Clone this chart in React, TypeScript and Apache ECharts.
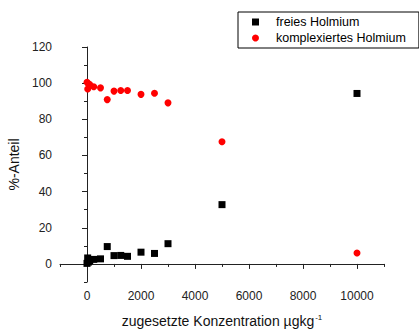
import React, { useEffect, useRef } from "react";
import * as echarts from "echarts";

const concentrations = [0, 25, 50, 100, 250, 500, 750, 1000, 1250, 1500, 2000, 2500, 3000, 5000, 10000];
const freiesHolmium = [0.3, 3.3, 1.0, 1.8, 2.5, 2.8, 9.6, 4.6, 4.7, 4.2, 6.5, 5.8, 11.2, 32.8, 94.3];
const komplexiertesHolmium = [100.5, 96.8, 99.7, 99.2, 98.0, 97.4, 90.9, 95.6, 95.9, 95.9, 93.8, 94.4, 89.1, 67.6, 6.0];
const seriesNames = ["freies Holmium", "komplexiertes Holmium"];
const xMajorTicks = [0, 2000, 4000, 6000, 8000, 10000];
const xMinorTicks = [-1000, 1000, 3000, 5000, 7000, 9000, 11000];
const yMajorTicks = [0, 20, 40, 60, 80, 100, 120];
const yMinorTicks = [-10, 10, 30, 50, 70, 90, 110];

const FONT = "Liberation Sans, Arial, sans-serif";
const AXIS_COLOR = "#222";

export default function App() {
  const ref = useRef<HTMLDivElement>(null);
  useEffect(() => {
    if (!ref.current) return;
    const chart = echarts.init(ref.current, undefined, { renderer: "svg" });
    const baseX = {
      type: "value",
      min: -1000,
      max: 11000,
      splitLine: { show: false },
    };
    const baseY = {
      type: "value",
      min: -10,
      max: 120,
      splitLine: { show: false },
    };
    chart.setOption({
      animation: false,
      backgroundColor: "#fff",
      textStyle: { fontFamily: FONT },
      grid: {
        left: 60,
        top: 47,
        right: 35,
        bottom: 47,
        containLabel: false,
        outerBoundsMode: "none",
      },
      legend: {
        orient: "vertical",
        left: 238,
        top: 12,
        data: [
          { name: seriesNames[0], icon: "rect" },
          { name: seriesNames[1], icon: "circle" },
        ],
        itemWidth: 7,
        itemHeight: 7,
        itemGap: 2,
        padding: [3, 13, 3, 14],
        borderColor: "#000",
        borderWidth: 1,
        borderRadius: 0,
        textStyle: {
          fontFamily: FONT,
          fontSize: 12.5,
          lineHeight: 14,
          color: "#000",
          padding: [0, 0, 0, 12],
        },
      },
      xAxis: [
        {
          ...baseX,
          position: "bottom",
          name: "zugesetzte Konzentration µgkg{sup|-1}",
          nameLocation: "middle",
          nameGap: 31,
          nameTextStyle: {
            fontFamily: FONT,
            fontSize: 14,
            color: "#111",
            lineHeight: 16,
            rich: {
              sup: { fontSize: 8, verticalAlign: "top", lineHeight: 16, padding: [0, 0, 0, 1] },
            },
          },
          axisLine: { show: true, lineStyle: { color: AXIS_COLOR, width: 1 } },
          axisTick: { show: true, inside: false, length: 5, customValues: xMajorTicks, lineStyle: { color: AXIS_COLOR } },
          axisLabel: {
            customValues: xMajorTicks,
            margin: 8,
            fontSize: 12,
            color: "#222",
            fontFamily: FONT,
            formatter: (v: number) => String(v),
          },
        },
        {
          ...baseX,
          position: "bottom",
          axisLine: { show: false },
          axisTick: { show: true, inside: false, length: 3, customValues: xMinorTicks, lineStyle: { color: AXIS_COLOR } },
          axisLabel: { show: false },
        },
      ],
      yAxis: [
        {
          ...baseY,
          position: "left",
          name: "%-Anteil",
          nameLocation: "middle",
          nameGap: 36,
          nameTextStyle: { fontFamily: FONT, fontSize: 14, color: "#111" },
          axisLine: { show: true, lineStyle: { color: AXIS_COLOR, width: 1 } },
          axisTick: { show: true, inside: false, length: 5, customValues: yMajorTicks, lineStyle: { color: AXIS_COLOR } },
          axisLabel: {
            customValues: yMajorTicks,
            margin: 8,
            fontSize: 12,
            color: "#222",
            fontFamily: FONT,
            formatter: (v: number) => String(v),
          },
        },
        {
          ...baseY,
          position: "left",
          axisLine: { show: false },
          axisTick: { show: true, inside: false, length: 3, customValues: yMinorTicks, lineStyle: { color: AXIS_COLOR } },
          axisLabel: { show: false },
        },
      ],
      series: [
        {
          name: seriesNames[0],
          type: "scatter",
          symbol: "rect",
          symbolSize: 7,
          itemStyle: { color: "#000", opacity: 1 },
          data: concentrations.map((c, i) => [c, freiesHolmium[i]]),
          z: 3,
        },
        {
          name: seriesNames[1],
          type: "scatter",
          symbol: "circle",
          symbolSize: 7,
          itemStyle: { color: "#ff0000", opacity: 1 },
          data: concentrations.map((c, i) => [c, komplexiertesHolmium[i]]),
          z: 3,
        },
      ],
    });
    return () => chart.dispose();
  }, []);
  return <div ref={ref} style={{ width: 419, height: 329, position: "absolute", left: 0, top: 0 }} />;
}
